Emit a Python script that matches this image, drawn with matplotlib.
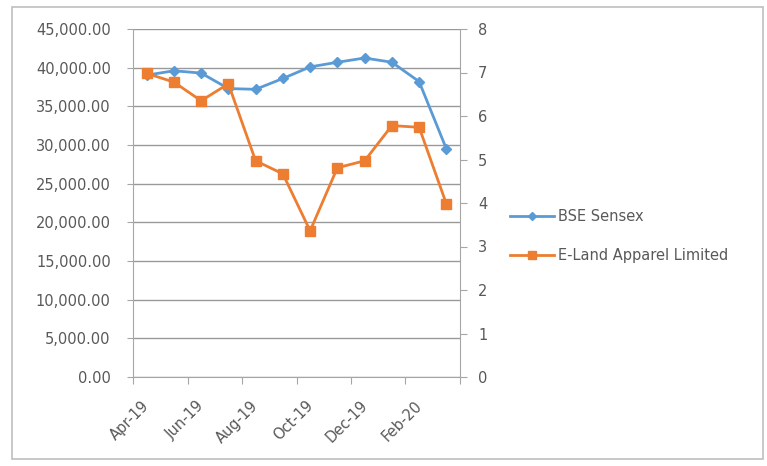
import matplotlib
matplotlib.use("Agg")
import matplotlib.pyplot as plt
from matplotlib.patches import Rectangle
from matplotlib.ticker import FuncFormatter, FixedLocator
import matplotlib.transforms as mtransforms
import numpy as np

months = ["Apr-19", "May-19", "Jun-19", "Jul-19", "Aug-19", "Sep-19",
          "Oct-19", "Nov-19", "Dec-19", "Jan-20", "Feb-20", "Mar-20"]
bse_sensex = [39030, 39600, 39300, 37300, 37200, 38600,
              40100, 40700, 41250, 40700, 38200, 29500]
eland = [6.98, 6.78, 6.35, 6.74, 4.97, 4.67,
         3.36, 4.81, 4.97, 5.78, 5.74, 3.98]
left_ticks = list(range(0, 45001, 5000))
right_ticks = list(range(0, 9))

blue = "#5B9BD5"
orange = "#ED7D31"
txt = "#595959"
axc = "#a6a6a6"

plt.rcParams['font.family'] = ['DejaVu Sans']
fig = plt.figure(figsize=(7.67, 4.66), dpi=100)
fig.patch.set_facecolor("white")
W, H = 767, 466
ax = fig.add_axes([133 / W, 1 - 377 / H, (460 - 133) / W, (377 - 29) / H])
ax2 = ax.twinx()

x = np.arange(len(months))
l1, = ax.plot(x, bse_sensex, color=blue, lw=2, marker="D", ms=5,
              markerfacecolor=blue, markeredgecolor=blue, label="BSE Sensex", zorder=3)
l2, = ax2.plot(x, eland, color=orange, lw=2, marker="s", ms=7,
               markerfacecolor=orange, markeredgecolor=orange,
               label="E-Land Apparel Limited", zorder=3)

ax.set_xlim(-0.5, len(months) - 0.5)
ax.set_ylim(0, 45000)
ax2.set_ylim(0, 8)
ax.set_yticks(left_ticks)
ax.yaxis.set_major_formatter(FuncFormatter(lambda v, p: f"{v:,.2f}"))
ax2.set_yticks(right_ticks)
ax2.yaxis.set_major_formatter(FuncFormatter(lambda v, p: f"{int(v)}"))

ax.grid(axis="y", color="#999999", lw=1)
ax.set_axisbelow(True)

# category axis: ticks at boundaries every 2, labels at every other category
ax.xaxis.set_major_locator(FixedLocator(np.arange(-0.5, len(months), 2)))
ax.xaxis.set_major_formatter(FuncFormatter(lambda v, p: ""))
ax.xaxis.set_minor_locator(FixedLocator(x[::2]))
ax.set_xticklabels([months[i] for i in x[::2]], minor=True)
ax.tick_params(axis="x", which="major", length=5, color=axc, direction="out")
ax.tick_params(axis="x", which="minor", length=0, pad=15, labelsize=10.5,
               labelcolor=txt)
shift = mtransforms.ScaledTranslation(-5 / 100, 0, fig.dpi_scale_trans)
for lab in ax.get_xticklabels(minor=True):
    lab.set_rotation(45)
    lab.set_ha("right")
    lab.set_va("top")
    lab.set_rotation_mode("anchor")
    lab.set_transform(lab.get_transform() + shift)

ax.tick_params(axis="y", length=4, color=axc, pad=12, labelsize=10.5, labelcolor=txt)
ax2.tick_params(axis="y", length=5, color=axc, pad=8, labelsize=10.5, labelcolor=txt)

for a in (ax, ax2):
    for s in a.spines.values():
        s.set_visible(False)
ax.spines["left"].set_visible(True)
ax.spines["left"].set_color(axc)
ax.spines["bottom"].set_visible(True)
ax.spines["bottom"].set_color(axc)
ax2.spines["right"].set_visible(True)
ax2.spines["right"].set_color(axc)

fig.legend(handles=[l1, l2], loc="center left",
           bbox_to_anchor=(497 / W, 1 - 236 / H), frameon=False,
           handlelength=3.0, labelspacing=1.6, fontsize=10.5,
           labelcolor=txt, markerscale=0.8, handletextpad=0.3)

fig.add_artist(Rectangle((12 / W, 1 - 459 / H), (763 - 12) / W, (459 - 7) / H,
                         transform=fig.transFigure, fill=False,
                         edgecolor="#bfbfbf", lw=1.2))

fig.savefig("out.png", dpi=100, facecolor="white")
